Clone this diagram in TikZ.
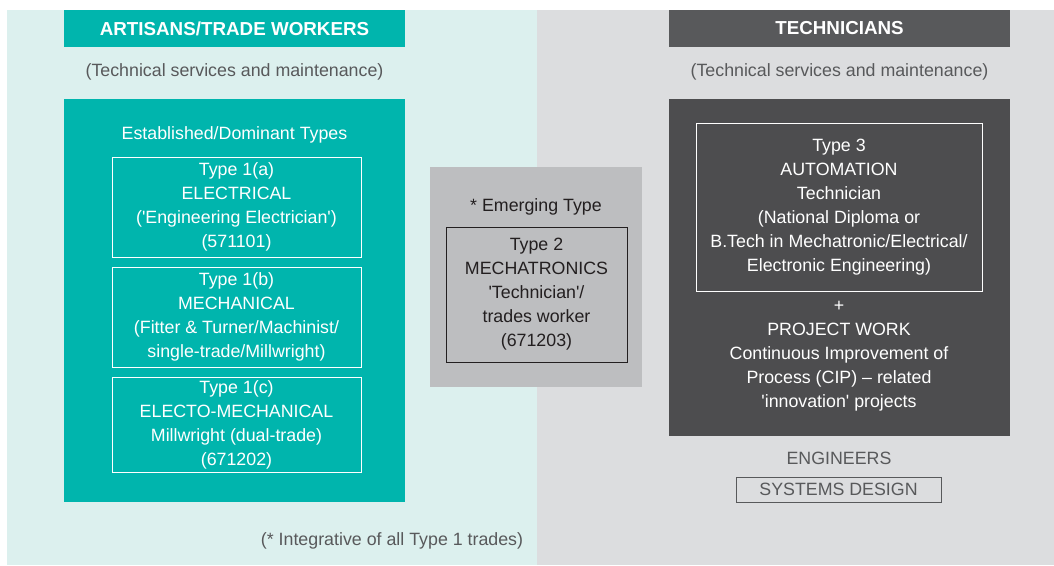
\documentclass[tikz,border=0pt]{standalone}
\usepackage{fontspec}
\setmainfont{Liberation Sans}
\definecolor{teal1}{HTML}{00B5AD}
\definecolor{tealbg}{HTML}{DCF0EE}
\definecolor{greybg}{HTML}{DCDDDF}
\definecolor{midgrey}{HTML}{BDBEC0}
\definecolor{darkhead}{HTML}{58595B}
\definecolor{darkbox}{HTML}{4D4D4F}
\definecolor{txtgrey}{HTML}{58595B}
\definecolor{txtdark}{HTML}{231F20}
\newcommand{\sq}{\textquotesingle}
\tikzset{
  txt/.style={font=\fontsize{17.8}{24}\selectfont, align=center, inner sep=0pt},
  head/.style={font=\bfseries\fontsize{18.8}{20}\selectfont, text=white, inner sep=0pt, minimum width=341pt, minimum height=37pt},
  typebox/.style={draw=white, line width=0.8pt, txt, text=white, minimum width=249pt},
}
\begin{document}
\begin{tikzpicture}[x=1pt,y=-1pt]
\useasboundingbox (0,0) rectangle (1054,565);
% backgrounds
\fill[tealbg] (7,10) rectangle (537,565);
\fill[greybg] (537,10) rectangle (1054,565);
% left column
\node[head, fill=teal1] (lh) at (234.5,28.5) {ARTISANS/TRADE WORKERS};
\node[txt, text=txtgrey] (ls) at (234.5,71.5) {(Technical services and maintenance)};
\node[fill=teal1, minimum width=341pt, minimum height=403pt, inner sep=0pt] (lbox) at (234.5,300.5) {};
\node[txt, text=white] (ldom) at (234.5,134.5) {Established/Dominant Types};
\node[typebox, minimum height=100pt] (t1a) at (236.5,207) {Type 1(a)\\ELECTRICAL\\(\sq Engineering Electrician\sq)\\(571101)};
\node[typebox, minimum height=100pt] (t1b) at (236.5,317) {Type 1(b)\\MECHANICAL\\(Fitter \& Turner/Machinist/\\single-trade/Millwright)};
\node[typebox, minimum height=95pt] (t1c) at (236.5,424.5) {Type 1(c)\\ELECTO-MECHANICAL\\Millwright (dual-trade)\\(671202)};
\node[txt, text=txtgrey] (integ) at (392,540.5) {(* Integrative of all Type 1 trades)};
% middle
\node[fill=midgrey, minimum width=212pt, minimum height=220pt, inner sep=0pt] (mbox) at (536,277) {};
\node[txt, text=txtdark] (emerg) at (536,206.5) {* Emerging Type};
\node[draw=txtdark, line width=0.8pt, txt, text=txtdark, minimum width=181pt, minimum height=135pt] (t2) at (536.5,294.5) {Type 2\\MECHATRONICS\\\sq Technician\sq/\\trades worker\\(671203)};
% right column
\node[head, fill=darkhead] (rh) at (839.5,28.5) {TECHNICIANS};
\node[txt, text=txtgrey] (rs) at (839.5,71.5) {(Technical services and maintenance)};
\node[fill=darkbox, minimum width=341pt, minimum height=337pt, inner sep=0pt] (rbox) at (839.5,267.5) {};
\node[typebox, minimum width=286pt, minimum height=168pt] (t3) at (839,207) {Type 3\\AUTOMATION\\Technician\\(National Diploma or\\B.Tech in Mechatronic/Electrical/\\Electronic Engineering)};
\node[txt, text=white] (proj) at (839,356.5) {+\\PROJECT WORK\\Continuous Improvement of\\Process (CIP) -- related\\\sq innovation\sq{} projects};
\node[txt, text=txtgrey] (eng) at (839,458.5) {ENGINEERS};
\node[draw=txtgrey, line width=0.8pt, txt, text=txtgrey, minimum width=205pt, minimum height=25pt] (sys) at (838.5,489.5) {SYSTEMS DESIGN};
\end{tikzpicture}
\end{document}
